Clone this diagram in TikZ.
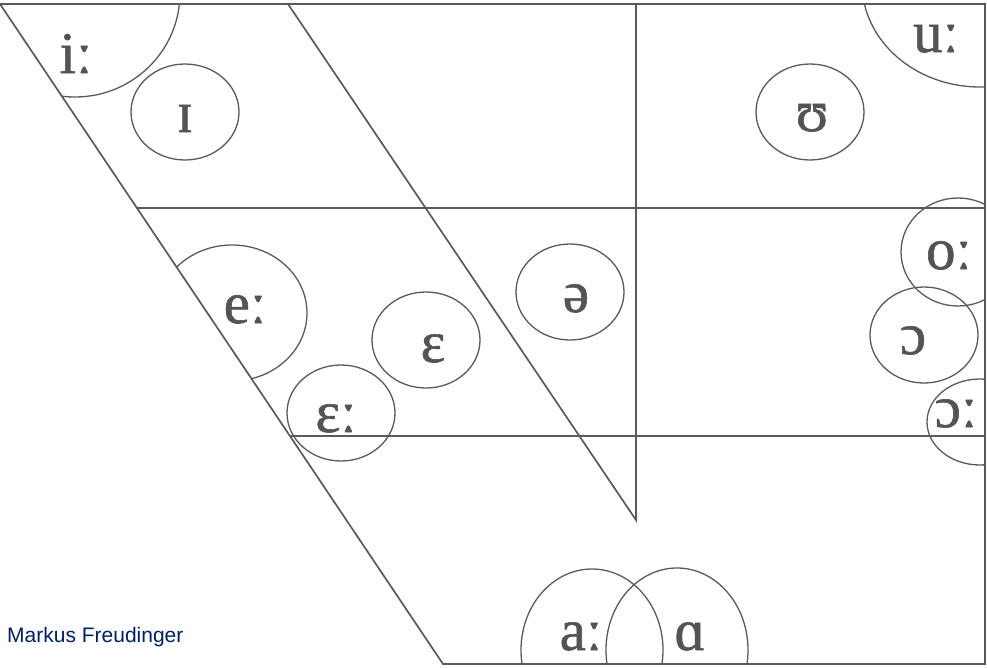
\documentclass[tikz,border=0pt]{standalone}
\usepackage{fontspec}
\setmainfont{Liberation Serif}
\newfontfamily\soundfont[FakeBold=1]{Liberation Serif}
\newfontfamily\authorfont{Liberation Sans}
\usetikzlibrary{shapes.geometric}
\definecolor{chartgray}{HTML}{5A5A5A}
\definecolor{soundgray}{HTML}{545454}
\definecolor{authorblue}{HTML}{002060}

\begin{document}
\begin{tikzpicture}[x=1pt,y=-1pt,
    chart/.style={draw=chartgray,line width=1.7pt,line join=miter},
    vowel/.style={ellipse,draw=chartgray,line width=1.3pt,inner sep=0pt,
      minimum width=108pt,minimum height=96pt},
    sound/.style={anchor=base,inner sep=0pt,text=soundgray,
      font=\soundfont\fontsize{59}{59}\selectfont}]
    \useasboundingbox (0,0) rectangle (987,667);
    % outline of the chart
    \coordinate (tl) at (0,4);
    \coordinate (tr) at (985,4);
    \coordinate (br) at (985,664);
    \coordinate (bl) at (443,664);
    \coordinate (mid) at (636,520);
    \draw[chart] (tl) -- (tr) -- (br) -- (bl) -- cycle;
    \draw[chart] (288,4) -- (mid) -- (636,4);
    \draw[chart] (136.9,208) -- (985,208);
    \draw[chart] (290,436) -- (985,436);
    % vowel areas
    \begin{scope}
      \clip (tl) -- (tr) -- (br) -- (bl) -- cycle;
      \node[vowel,minimum width=210pt,minimum height=208pt] (ii) at (75,-7) {};
      \node[vowel] (ih) at (185,112) {};
      \node[vowel] (uh) at (810,112) {};
      \node[vowel,minimum width=236pt,minimum height=208pt] (uu) at (980,-17) {};
      \node[vowel,minimum width=150pt,minimum height=136pt] (ee) at (232,313) {};
      \node[vowel] (eh) at (426,340) {};
      \node[vowel] (ehh) at (341,413) {};
      \node[vowel] (schwa) at (570,292) {};
      \node[vowel,minimum width=114pt,minimum height=108pt] (oo) at (958,252) {};
      \node[vowel] (oh) at (924,335) {};
      \node[vowel,minimum width=106pt,minimum height=86pt] (ohh) at (980,422) {};
      \node[vowel,minimum width=142pt,minimum height=162pt] (aa) at (592,650) {};
      \node[vowel,minimum width=142pt,minimum height=164pt] (ah) at (677,650) {};
    \end{scope}
    % the sounds
    \node[sound] (ii-t) at (76,73) {iː};
    \node[sound] (ih-t) at (185,132) {ɪ};
    \node[sound] (uh-t) at (812,131) {ʊ};
    \node[sound] (uu-t) at (936,52) {uː};
    \node[sound] (ee-t) at (245,323) {eː};
    \node[sound] (eh-t) at (433,362) {ɛ};
    \node[sound] (ehh-t) at (336,432) {ɛː};
    \node[sound] (schwa-t) at (576,312) {ə};
    \node[sound] (oo-t) at (949,269) {oː};
    \node[sound] (oh-t) at (913,354) {ɔ};
    \node[sound] (ohh-t) at (956,427) {ɔː};
    \node[sound] (aa-t) at (581,650) {aː};
    \node[sound] (ah-t) at (690,650) {ɑ};
    \node[anchor=base west,inner sep=0pt,text=authorblue,
      font=\authorfont\fontsize{21}{21}\selectfont] (author) at (7,642) {Markus Freudinger};
\end{tikzpicture}
\end{document}
